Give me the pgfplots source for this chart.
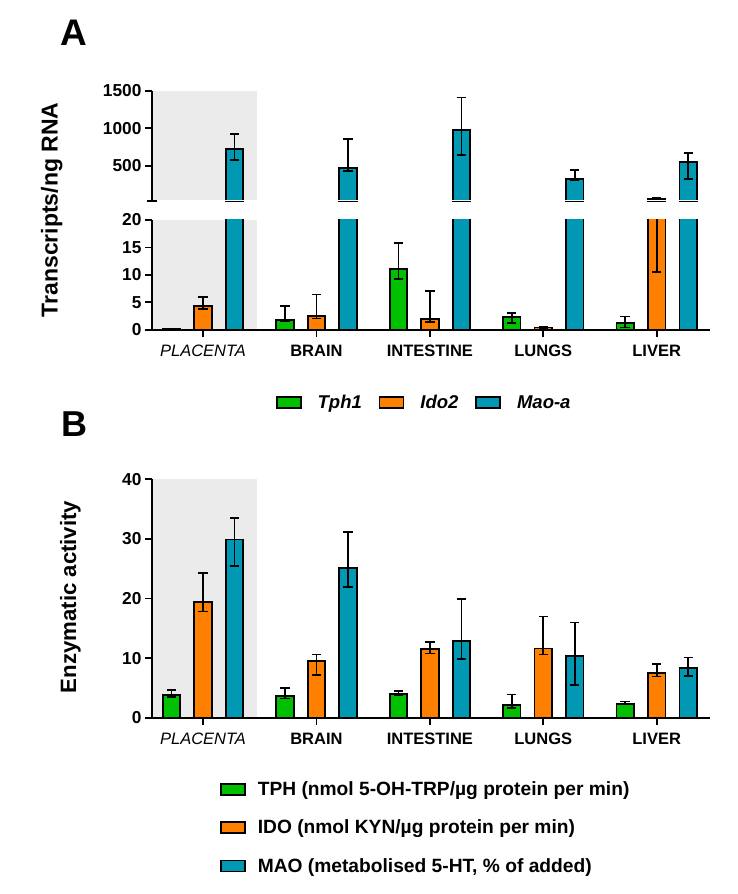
\documentclass[border=0pt]{standalone}
\usepackage{fontspec}
\setmainfont{Liberation Sans}
\usepackage{pgfplots}
\pgfplotsset{compat=1.18}

\definecolor{cgreen}{RGB}{0,192,0}
\definecolor{corange}{RGB}{255,128,0}
\definecolor{cblue}{RGB}{0,152,178}
\definecolor{cgray}{RGB}{235,235,235}

\pgfplotsset{
 myaxis/.style={
   scale only axis, width=558bp, xmin=-0.45, xmax=4.47,
   axis line style={line width=1.8bp},
   every tick/.style={black, line width=1.8bp},
   major tick length=7bp,
   tick align=outside,
   /pgf/number format/assume math mode=true,
   /pgf/number format/1000 sep={},
   yticklabel style={font=\bfseries\fontsize{17.3bp}{19bp}\selectfont},
   xticklabel style={font=\bfseries\fontsize{16.5bp}{19bp}\selectfont, yshift=-5bp},
   axis on top,
   xtick={0,1,2,3,4},
 },
 left/.style={x filter/.expression={x-0.2778}},
 right/.style={x filter/.expression={x+0.2778}},
 plainbars/.style={ybar, bar width=17.5bp, bar shift=0bp, draw=black, line width=1.8bp, fill=#1},
 bars/.style={ybar, bar width=17.5bp, bar shift=0bp, draw=black, line width=1.8bp, fill=#1,
   error bars/.cd, y dir=both, y explicit,
   error bar style={line width=1.6bp, black},
   error mark options={rotate=90, black, line width=1.6bp, mark size=4.7bp}},
}

\begin{document}
\begin{tikzpicture}
\path[use as bounding box] (0bp,0bp) rectangle (738bp,894bp);

% Panel labels
\node[font=\bfseries\fontsize{37bp}{40bp}\selectfont] at (73.5bp,861.5bp) {A};
\node[font=\bfseries\fontsize{36bp}{40bp}\selectfont] at (74.5bp,470bp) {B};
\node[rotate=90, font=\bfseries\fontsize{23bp}{26bp}\selectfont] at (51.7bp,684bp) {Transcripts/ng RNA};
\node[rotate=90, font=\bfseries\fontsize{22.2bp}{25bp}\selectfont] at (70.5bp,297bp) {Enzymatic activity};

% ---------- Panel A, upper segment ----------
\begin{axis}[myaxis, at={(152bp,692.7bp)}, anchor=south west, height=110.6bp,
  ymin=31, ymax=1500, ytick={500,1000,1500},
  axis x line=none, axis y line*=left,
  extra y ticks={31}, extra y tick labels={},
  extra y tick style={tick align=center, major tick length=10bp}]
\addplot[fill=cgray, draw=none, forget plot] coordinates {(-0.45,1500) (0.478,1500)} \closedcycle;
\addplot[restrict y to domain=31:2000, bars=corange] coordinates {
 (0,4.38) += (0,1.53) -= (0,0.66) (1,2.55) += (0,3.9) -= (0,0.5) (2,1.95) += (0,5.15) -= (0,0.5)
 (3,0.4) +- (0,0.2) (4,58) += (0,21) -= (0,47.5)};
\addplot[right, bars=cblue] coordinates {
 (0,722) += (0,203) -= (0,142) (1,477) += (0,378) -= (0,43) (2,974) += (0,433) -= (0,332)
 (3,327) += (0,120) -= (0,22) (4,557) += (0,112) -= (0,230)};
% open the bar bottoms at the axis break
\fill[white] (axis cs:-0.45,31) rectangle (axis cs:4.47,43);
\end{axis}

% ---------- Panel A, lower segment ----------
\begin{axis}[myaxis, at={(152bp,564.3bp)}, anchor=south west, height=109.7bp,
  ymin=0, ymax=20, ytick={0,5,10,15,20},
  axis lines*=left,
  xticklabels={\textnormal{\itshape PLACENTA}, BRAIN, INTESTINE, LUNGS, LIVER},
  legend columns=3,
  legend style={at={(0.488,-0.665)}, anchor=center, draw=none, fill=none,
    font=\bfseries\itshape\fontsize{18.5bp}{20bp}\selectfont,
    /tikz/every odd column/.append style={column sep=14bp},
    /tikz/every even column/.append style={column sep=15bp}},
  legend image code/.code={\draw[#1, line width=1.6bp] (-6bp,-5.5bp) rectangle (18bp,5.5bp);}]
\addplot[fill=cgray, draw=none, forget plot] coordinates {(-0.45,20) (0.478,20)} \closedcycle;
\addplot[left, bars=cgreen] coordinates {
 (0,0.15) +- (0,0.1) (1,1.77) += (0,2.6) -= (0,0.3) (2,11.0) += (0,4.8) -= (0,1.75)
 (3,2.37) += (0,0.63) -= (0,1.2) (4,1.17) += (0,1.2) -= (0,0.8)};
\addlegendentry{Tph1}
\addplot[bars=corange] coordinates {
 (0,4.38) += (0,1.53) -= (0,0.66) (1,2.55) += (0,3.9) -= (0,0.5) (2,1.95) += (0,5.15) -= (0,0.5)
 (3,0.4) +- (0,0.2) (4,58) += (0,21) -= (0,47.5)};
\addlegendentry{Ido2}
\addplot[right, plainbars=cblue, restrict y to domain*=0:25] coordinates {
 (0,722) (1,477) (2,974) (3,327) (4,557)};
\addlegendentry{Mao-a}
\end{axis}

% ---------- Panel B ----------
\begin{axis}[myaxis, at={(152bp,176.3bp)}, anchor=south west, height=238.4bp,
  ymin=0, ymax=40, ytick={0,10,20,30,40},
  axis lines*=left,
  xticklabels={\textnormal{\itshape PLACENTA}, BRAIN, INTESTINE, LUNGS, LIVER},
  legend cell align=left,
  legend style={at={(0.1219,-0.4614)}, anchor=west, draw=none, fill=none, inner sep=0pt,
    font=\bfseries\fontsize{19.2bp}{21bp}\selectfont, row sep=19bp,
    /tikz/every odd column/.append style={column sep=10bp}},
  legend image code/.code={\draw[#1, line width=1.6bp] (-6bp,-5.5bp) rectangle (18bp,5.5bp);}]
\addplot[fill=cgray, draw=none, forget plot] coordinates {(-0.45,40) (0.478,40)} \closedcycle;
\addplot[left, bars=cgreen] coordinates {
 (0,3.8) += (0,0.85) -= (0,0.3) (1,3.6) += (0,1.4) -= (0,0.4) (2,4.0) += (0,0.5) -= (0,0.3)
 (3,2.08) += (0,1.8) -= (0,0.5) (4,2.3) += (0,0.4) -= (0,0.1)};
\addlegendentry{TPH (nmol 5-OH-TRP/µg protein per min)}
\addplot[bars=corange] coordinates {
 (0,19.4) += (0,4.9) -= (0,1.6) (1,9.46) += (0,1.14) -= (0,2.26) (2,11.5) += (0,1.2) -= (0,0.7)
 (3,11.6) += (0,5.4) -= (0,1.0) (4,7.45) += (0,1.6) -= (0,0.55)};
\addlegendentry{IDO (nmol KYN/µg protein per min)}
\addplot[right, bars=cblue] coordinates {
 (0,29.9) += (0,3.6) -= (0,4.4) (1,25.1) += (0,6.1) -= (0,3.2) (2,12.9) += (0,7.0) -= (0,3.1)
 (3,10.35) += (0,5.65) -= (0,4.85) (4,8.34) += (0,1.76) -= (0,1.34)};
\addlegendentry{MAO (metabolised 5-HT, \% of added)}
\end{axis}
\end{tikzpicture}
\end{document}
